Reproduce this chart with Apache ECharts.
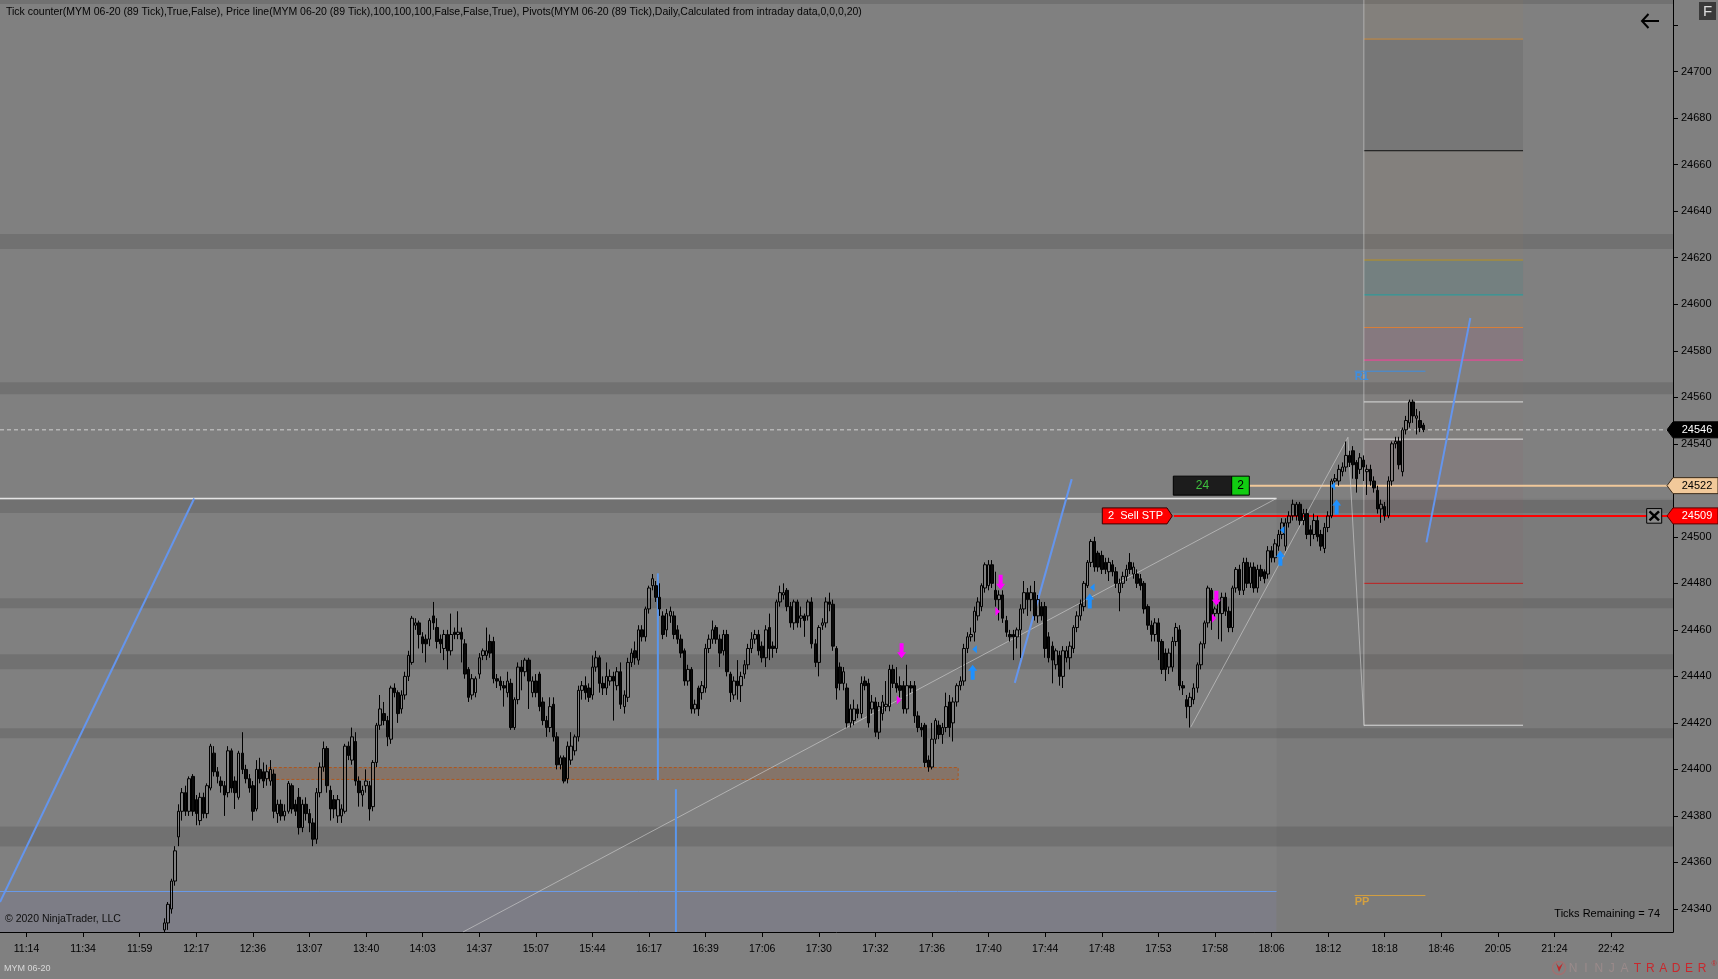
<!DOCTYPE html>
<html>
<head>
<meta charset="utf-8">
<title>MYM 06-20 (89 Tick)</title>
<script src="https://cdn.jsdelivr.net/npm/echarts@6.0.0/dist/echarts.min.js"></script>
<style>
html,body{margin:0;padding:0;background:#808080;overflow:hidden;}
#chart{width:1718px;height:979px;}
</style>
</head>
<body>
<div id="chart"></div>
<script>
// ---------------- DATA ----------------
const SLOT_COUNT = 473;               // bar slots across the plot (incl. future space)
const SLOT_MIN = -0.5, SLOT_MAX = SLOT_COUNT - 0.5;
const PRICE_MIN = 24330.1, PRICE_MAX = 24730.8;
const FIRST_BAR_SLOT = 46;

// [open, close, low, high]
const bars = [
// 46
[24331,24334,24330,24336],[24334,24342,24331,24343],[24340,24352,24338,24353],[24352,24365,24350,24367],
[24371,24382,24367,24385],[24382,24390,24378,24392],[24390,24382,24380,24393],[24382,24396,24380,24397],
[24397,24382,24380,24398],
// 55
[24387,24381,24376,24389],[24378,24388,24376,24390],[24388,24381,24379,24390],[24381,24393,24379,24394],
[24392,24410,24391,24411],[24407,24399,24397,24410],[24399,24397,24394,24401],[24395,24393,24390,24397],
[24393,24389,24380,24395],[24390,24408,24388,24410],
// 65
[24408,24392,24390,24409],[24395,24390,24383,24397],[24388,24407,24387,24408],[24407,24400,24398,24416],
[24400,24396,24394,24402],[24396,24392,24390,24398],[24393,24382,24378,24395],[24383,24400,24382,24404],
[24400,24396,24394,24405],[24399,24395,24392,24403],
// 75
[24396,24399,24393,24402],[24395,24400,24393,24404],[24398,24382,24379,24400],[24381,24385,24377,24387],
[24385,24380,24378,24387],[24380,24382,24378,24385],[24382,24394,24381,24395],[24393,24383,24381,24394],
[24385,24382,24380,24387],[24388,24375,24372,24392],
// 85
[24375,24385,24373,24387],[24385,24381,24378,24388],[24381,24377,24373,24383],[24377,24370,24367,24379],
[24370,24390,24368,24392],[24390,24401,24388,24403],[24401,24409,24399,24412],[24409,24393,24390,24410],
[24391,24383,24378,24393],[24387,24383,24379,24389],
// 95
[24380,24387,24377,24389],[24380,24383,24377,24385],[24382,24410,24381,24411],[24410,24406,24404,24412],
[24404,24414,24402,24418],[24412,24395,24393,24416],[24395,24390,24384,24397],[24389,24391,24384,24393],
[24393,24395,24390,24400],[24393,24383,24378,24395],
// 105
[24384,24403,24382,24404],[24403,24419,24401,24420],[24419,24426,24417,24432],[24424,24421,24419,24429],
[24421,24414,24410,24423],[24413,24435,24411,24436],[24435,24433,24431,24437],[24433,24424,24420,24434],
[24426,24432,24424,24434],[24432,24440,24430,24442],
// 115
[24440,24449,24438,24451],[24446,24465,24445,24466],[24462,24463,24460,24465],[24463,24458,24452,24464],
[24457,24454,24450,24459],[24456,24454,24446,24458],[24456,24464,24453,24465],[24466,24463,24460,24472],
[24461,24455,24452,24465],[24456,24454,24450,24458],
// 125
[24452,24458,24447,24460],[24458,24451,24443,24460],[24451,24458,24449,24467],[24459,24458,24456,24461],
[24458,24459,24456,24468],[24459,24456,24446,24461],[24454,24441,24439,24456],[24443,24431,24429,24444],
[24432,24439,24430,24441],[24433,24439,24431,24440],
// 135
[24441,24448,24439,24450],[24449,24451,24447,24452],[24449,24451,24447,24461],[24455,24450,24448,24458],
[24455,24439,24437,24457],[24439,24438,24435,24441],[24438,24436,24434,24440],[24436,24435,24427,24438],
[24433,24438,24431,24442],[24437,24418,24417,24439],
// 145
[24418,24430,24417,24431],[24430,24444,24428,24446],[24444,24442,24434,24447],[24442,24447,24440,24448],
[24447,24438,24426,24448],[24433,24438,24431,24440],[24438,24433,24431,24441],[24441,24427,24425,24442],
[24429,24421,24419,24431],[24421,24418,24414,24423],
// 155
[24418,24427,24416,24431],[24428,24414,24412,24431],[24414,24402,24400,24416],[24402,24405,24400,24406],
[24405,24395,24394,24406],
// 160
[24396,24410,24394,24412],[24404,24410,24402,24416],[24408,24414,24406,24415],[24414,24434,24412,24436],
[24434,24436,24430,24438],[24436,24433,24430,24440],[24435,24431,24429,24437],[24432,24444,24430,24449],
[24444,24448,24442,24451],[24448,24437,24433,24449],
// 170
[24437,24435,24432,24440],[24435,24440,24432,24446],[24438,24440,24436,24443],[24440,24438,24421,24442],
[24436,24442,24434,24444],[24442,24428,24426,24446],[24427,24432,24424,24434],[24431,24446,24429,24448],
[24446,24450,24444,24452],[24451,24448,24445,24455],
// 180
[24447,24460,24445,24462],[24460,24457,24455,24462],[24457,24469,24455,24470],[24469,24478,24467,24479],
[24479,24482,24477,24484],[24479,24474,24472,24481],[24474,24469,24466,24480],[24466,24458,24456,24468],
[24460,24467,24457,24469],[24466,24468,24463,24470],
// 190
[24466,24458,24456,24468],[24460,24456,24454,24462],[24456,24450,24448,24458],[24451,24438,24436,24452],
[24438,24443,24436,24445],[24443,24426,24424,24444],[24426,24428,24424,24430],[24435,24426,24423,24436],
[24433,24436,24430,24438],[24435,24452,24433,24454],
// 200
[24452,24456,24450,24458],[24456,24460,24454,24464],[24461,24456,24454,24462],[24456,24450,24444,24458],
[24451,24458,24449,24460],[24458,24442,24440,24460],[24441,24433,24429,24442],[24432,24438,24430,24440],
[24438,24436,24430,24447],[24436,24440,24429,24442],
// 210
[24441,24445,24439,24447],[24445,24452,24443,24454],[24452,24456,24450,24459],[24456,24458,24454,24460],
[24458,24451,24449,24460],[24453,24448,24446,24455],[24448,24460,24444,24462],[24461,24452,24447,24467],
[24453,24452,24448,24455],[24452,24472,24450,24473],
// 220
[24472,24476,24470,24479],[24475,24476,24473,24480],[24477,24470,24468,24478],[24470,24463,24461,24472],
[24463,24472,24460,24473],[24472,24463,24461,24473],[24465,24466,24461,24470],[24466,24464,24457,24467],
[24466,24472,24464,24473],[24472,24454,24452,24474],
// 230
[24454,24446,24444,24456],[24446,24461,24440,24462],[24462,24463,24460,24465],[24463,24472,24461,24474],
[24472,24471,24468,24476],[24471,24453,24451,24473],[24452,24435,24430,24453],[24444,24437,24434,24446],
[24437,24442,24434,24444],[24435,24420,24418,24437],
// 240
[24420,24426,24418,24428],[24421,24426,24419,24430],[24426,24424,24422,24428],[24424,24437,24422,24440],
[24438,24436,24434,24440],[24437,24420,24418,24439],[24426,24429,24424,24432],[24429,24416,24414,24431],
[24416,24427,24413,24429],[24424,24429,24421,24432],
// 250
[24427,24428,24425,24438],[24427,24443,24425,24445],[24443,24437,24435,24445],[24437,24435,24433,24444],
[24436,24434,24431,24440],[24436,24426,24424,24438],[24426,24436,24424,24445],[24436,24435,24433,24438],
[24436,24423,24420,24438],[24423,24418,24416,24425],
// 260
[24418,24417,24414,24420],[24419,24403,24401,24420],[24404,24401,24399,24406],[24401,24413,24400,24420],
[24413,24421,24411,24422],[24419,24415,24413,24421],[24415,24418,24411,24420],[24418,24427,24416,24433],
[24429,24418,24414,24432],[24420,24429,24412,24431],
// 270
[24429,24436,24427,24437],[24436,24438,24434,24440],[24438,24452,24436,24454],[24452,24457,24450,24459],
[24457,24458,24455,24461],[24459,24468,24455,24470],[24466,24472,24464,24474],[24470,24479,24468,24480],
[24478,24488,24476,24489],[24479,24488,24477,24490],
// 280
[24488,24480,24478,24490],[24477,24473,24470,24485],[24473,24475,24464,24477],[24475,24465,24463,24477],
[24464,24459,24457,24466],[24458,24457,24455,24460],[24458,24457,24447,24460],[24457,24460,24452,24461],
[24460,24469,24448,24471],[24469,24476,24467,24481],
// 290
[24476,24473,24466,24478],[24473,24476,24468,24479],[24476,24466,24464,24481],[24466,24473,24463,24475],
[24470,24466,24464,24472],[24470,24452,24448,24472],[24457,24448,24446,24459],[24453,24447,24437,24455],
[24445,24451,24443,24452],[24449,24440,24436,24451],
// 300
[24440,24451,24435,24453],[24448,24451,24446,24453],[24448,24453,24443,24455],[24452,24461,24450,24462],
[24461,24466,24459,24468],[24466,24471,24464,24473],[24470,24480,24468,24481],[24479,24489,24478,24490],
[24489,24498,24487,24499],[24498,24487,24485,24500],
// 310
[24493,24487,24485,24494],[24492,24486,24484,24494],[24489,24486,24484,24491],[24485,24489,24481,24491],
[24488,24485,24483,24490],[24485,24480,24478,24487],[24476,24480,24468,24482],[24480,24483,24478,24485],
[24483,24486,24481,24488],[24489,24486,24484,24493],
// 320
[24484,24487,24482,24489],[24484,24480,24478,24486],[24482,24479,24477,24484],[24480,24469,24467,24481],
[24470,24462,24460,24471],[24462,24458,24455,24464],[24458,24463,24455,24465],[24463,24455,24447,24465],
[24455,24443,24441,24456],[24450,24443,24438,24452],
// 330
[24444,24450,24441,24452],[24444,24455,24442,24457],[24455,24461,24453,24463],[24460,24436,24434,24462],
[24436,24435,24432,24438],[24430,24427,24422,24432],[24427,24431,24418,24433],[24430,24435,24428,24437],
[24435,24445,24433,24446],[24445,24454,24443,24455],
// 340
[24454,24463,24452,24464],[24463,24478,24461,24479],[24477,24464,24460,24478],[24467,24469,24465,24470],
[24467,24472,24456,24473],[24467,24474,24455,24476],[24474,24468,24466,24476],[24468,24461,24459,24470],
[24461,24478,24459,24479],[24478,24486,24476,24487],
// 350
[24486,24477,24475,24488],[24477,24489,24475,24491],[24489,24480,24478,24491],[24480,24487,24478,24489],
[24487,24478,24476,24489],[24478,24486,24476,24488],[24486,24483,24481,24488],[24485,24482,24480,24486],
[24484,24494,24482,24496],[24494,24491,24489,24496],
// 360
[24491,24497,24489,24499],[24496,24501,24494,24503],[24501,24506,24499,24508],[24496,24506,24494,24508],
[24506,24509,24504,24511],[24509,24514,24507,24516],[24509,24514,24507,24515],[24514,24507,24505,24515],
[24507,24510,24505,24512],[24510,24501,24499,24512],
// 370
[24503,24501,24496,24505],[24501,24507,24499,24510],[24507,24500,24498,24509],[24501,24496,24494,24503],
[24495,24504,24493,24506],[24504,24509,24502,24511],[24509,24524,24508,24525],[24524,24525,24522,24527],
[24524,24529,24522,24531],[24528,24530,24526,24532],
// 380
[24530,24535,24528,24541],[24535,24532,24530,24537],[24537,24531,24525,24539],[24532,24525,24519,24533],
[24529,24534,24527,24536],[24533,24530,24524,24535],[24528,24529,24518,24531],[24529,24524,24522,24531],
[24524,24521,24519,24526],[24520,24512,24510,24522],
// 390
[24512,24514,24506,24516],[24513,24509,24507,24515],[24509,24524,24508,24526],[24524,24540,24522,24541],
[24540,24541,24538,24543],[24541,24531,24529,24543],[24528,24546,24526,24547],[24546,24550,24544,24552],
[24549,24558,24547,24559],[24558,24552,24549,24559],
// 400
[24551,24552,24544,24555],[24550,24547,24545,24554],[24548,24546,24545,24549]
];

const timeLabels = ['11:14','11:34','11:59','12:17','12:36','13:07','13:40','14:03','14:37','15:07',
  '15:44','16:17','16:39','17:06','17:30','17:32','17:36','17:40','17:44','17:48','17:53','17:58',
  '18:06','18:12','18:18','18:46','20:05','21:24','22:42'];
const FIRST_LABEL_SLOT = 7, LABEL_EVERY = 16;

const yTickValues = [24340,24360,24380,24400,24420,24440,24460,24480,24500,24520,24540,24560,
  24580,24600,24620,24640,24660,24680,24700,24720];
const yLabelValues = [24340,24360,24380,24400,24420,24440,24460,24480,24500,24540,24560,
  24580,24600,24620,24640,24660,24680,24700];

// darker horizontal zones [low, high]
const bands = [[24729.1,24731],[24623.7,24630.2],[24561.3,24566.5],[24510.2,24515.8],
  [24469.3,24473.6],[24443.1,24449.5],[24413.4,24417.7],[24366.9,24375.5]];
// [slotFrom, slotTo, priceLow, priceHigh]
const blueTintZone = [[SLOT_MIN, 360.4, PRICE_MIN, 24347.5]];
const darkTintZone = [[360.4, SLOT_MAX, PRICE_MIN, 24516.5]];
const supplyZone = [[75.5, 270.4, 24395.7, 24400.8]];

// pivots
const pivotFrom = 385.1, pivotTo = 430.1;
const pivotLevels = [24714, 24666, 24619, 24604, 24590, 24576, 24558, 24542, 24480, 24419];
const r1Level = {price: 24571.2, from: 382.5, to: 402.5};
const ppLevel = {price: 24345.8, from: 382.5, to: 402.5};

// drawn lines: arrays of [slot, price]
const blueTrendLines = [
  [[-0.5, 24343], [54.4, 24516.5]],
  [[286.4, 24437.2], [302.5, 24524.8]],
  [[402.8, 24497.6], [415.2, 24594.1]]
];
const blueVerticals = [
  [[185.5, 24484.3], [185.5, 24395.4]],
  [[190.6, 24391.5], [190.6, PRICE_MIN]]
];
const grayZigzags = [
  [[130.4, PRICE_MIN], [360.4, 24516.5]],
  [[336.2, 24418.3], [380.6, 24542.8], [385.2, 24418.6]]
];
const whiteLevel = {price: 24516.5, from: SLOT_MIN, to: 360.4};
const blueLevel = {price: 24347.5, from: SLOT_MIN, to: 360.4};
const lastPrice = 24546;
const entryPrice = 24522, entryFrom = 352.6, entryQty = 24, entryPos = 2;
const stopPrice = 24509, stopFrom = 331.4, stopQty = 2;
const ticksRemaining = 74;

// signal markers [slot, price]
const downArrows = [[254.4, 24451.0], [282.4, 24480.5], [343.4, 24473.6]];
const upArrows = [[274.5, 24441.8], [307.6, 24472.4], [361.5, 24490.8], [377.4, 24512.8]];
const rightTriangles = [[253.6, 24429.8], [281.5, 24467.9], [342.7, 24465.0]];
const leftTriangles = [[275.1, 24451.7], [308.4, 24478.2], [362.1, 24502.9], [376.4, 24521.8]];

const titleText = 'Tick counter(MYM 06-20 (89 Tick),True,False), Price line(MYM 06-20 (89 Tick),100,100,100,False,False,True), Pivots(MYM 06-20 (89 Tick),Daily,Calculated from intraday data,0,0,0,20)';

// ---------------- CHART ----------------
const FONT = '"Liberation Sans", Arial, sans-serif';
const chart = echarts.init(document.getElementById('chart'), null, {renderer: 'canvas', width: 1718, height: 979});

const categories = Array.from({length: SLOT_COUNT}, (_, i) => String(i));
const labelBySlot = {};
timeLabels.forEach((t, k) => { labelBySlot[FIRST_LABEL_SLOT + k * LABEL_EVERY] = t; });
const candleData = Array.from({length: SLOT_COUNT}, (_, s) => bars[s - FIRST_BAR_SLOT] || ['-', '-', '-', '-']);

function rectSeries(rows, styleFn, z) {
  return {
    type: 'custom', coordinateSystem: 'cartesian2d', xAxisIndex: 1, yAxisIndex: 0,
    z: z, silent: true, clip: true, data: rows, encode: {x: [0, 1], y: [2, 3]},
    renderItem: function (params, api) {
      const a = api.coord([api.value(0), api.value(2)]);
      const b = api.coord([api.value(1), api.value(3)]);
      return {type: 'rect',
        shape: {x: Math.min(a[0], b[0]), y: Math.min(a[1], b[1]), width: Math.abs(b[0] - a[0]), height: Math.abs(b[1] - a[1])},
        style: styleFn(params.dataIndex)};
    }
  };
}
function lineSeries(pts, color, width, z, type) {
  return {type: 'line', xAxisIndex: 1, yAxisIndex: 0, data: pts, symbol: 'none', silent: true, z: z,
    clip: true, lineStyle: {color: color, width: width, type: type || 'solid'}};
}
// arrow glyphs drawn at the marker's data point
function arrowSeries(pts, dir, color, z) {
  return {
    type: 'custom', coordinateSystem: 'cartesian2d', xAxisIndex: 1, yAxisIndex: 0, z: z, silent: true,
    data: pts, encode: {x: 0, y: 1},
    renderItem: function (params, api) {
      const c = api.coord([api.value(0), api.value(1)]);
      const x = c[0], y = c[1], h = 7.5;
      const pts2 = dir === 'down'
        ? [[x - 2, y - h], [x + 2, y - h], [x + 2, y + 1.5], [x + 4.5, y + 1.5], [x, y + h], [x - 4.5, y + 1.5], [x - 2, y + 1.5]]
        : [[x - 2, y + h], [x + 2, y + h], [x + 2, y - 1.5], [x + 4.5, y - 1.5], [x, y - h], [x - 4.5, y - 1.5], [x - 2, y - 1.5]];
      return {type: 'polygon', shape: {points: pts2}, style: {fill: color}};
    }
  };
}
function triangleSeries(pts, dir, color, z) {
  return {
    type: 'custom', coordinateSystem: 'cartesian2d', xAxisIndex: 1, yAxisIndex: 0, z: z, silent: true,
    data: pts, encode: {x: 0, y: 1},
    renderItem: function (params, api) {
      const c = api.coord([api.value(0), api.value(1)]);
      const x = c[0], y = c[1];
      const pts2 = dir === 'right'
        ? [[x - 2, y - 4.5], [x + 2.5, y], [x - 2, y + 4.5]]
        : [[x + 2, y - 4], [x - 2.5, y], [x + 2, y + 4]];
      return {type: 'polygon', shape: {points: pts2}, style: {fill: color}};
    }
  };
}

const series = [];
series.push(rectSeries(bands.map(b => [SLOT_MIN, SLOT_MAX, b[0], b[1]]), () => ({fill: 'rgba(0,0,0,0.115)'}), 1));
series.push(rectSeries(blueTintZone, () => ({fill: 'rgba(90,90,210,0.07)'}), 1));
series.push(rectSeries(darkTintZone, () => ({fill: 'rgba(0,0,0,0.035)'}), 1));

// pivot fills
const pivotBounds = [PRICE_MAX].concat(pivotLevels);
const pivotFills = ['rgba(160,125,90,0.10)', 'rgba(0,0,0,0.07)', 'rgba(160,125,90,0.08)', 'rgba(40,130,130,0.13)',
  'rgba(160,125,90,0.08)', 'rgba(170,80,120,0.14)', 'rgba(150,110,100,0.05)', 'rgba(150,110,100,0.05)',
  'rgba(150,90,100,0.11)', 'rgba(150,110,100,0.05)'];
const pivotRows = [];
for (let i = 0; i < pivotBounds.length - 1; i++) pivotRows.push([pivotFrom, pivotTo, pivotBounds[i + 1], pivotBounds[i]]);
series.push(rectSeries(pivotRows, i => ({fill: pivotFills[i]}), 1));

series.push(rectSeries(supplyZone, () => ({fill: 'rgba(150,75,25,0.22)', stroke: '#b0561c', lineWidth: 1, lineDash: [3, 2]}), 2));

// pivot lines
const pivotColors = ['#c8883a', '#111111', '#b8901e', '#1fa0a0', '#d8803a', '#ff3c9c', '#dcdcdc', '#dcdcdc', '#c02020', '#dcdcdc'];
pivotLevels.forEach((p, i) => series.push(lineSeries([[pivotFrom, p], [pivotTo, p]], pivotColors[i], 1, 3)));
series.push(lineSeries([[pivotFrom, PRICE_MAX], [pivotFrom, pivotLevels[pivotLevels.length - 1]]], 'rgba(215,215,215,0.55)', 1, 3));
series.push(lineSeries([[r1Level.from, r1Level.price], [r1Level.to, r1Level.price]], '#3d8ee0', 1, 3));
series.push(lineSeries([[ppLevel.from, ppLevel.price], [ppLevel.to, ppLevel.price]], '#d4a040', 1, 3));

// horizontal levels
series.push(lineSeries([[whiteLevel.from, whiteLevel.price], [whiteLevel.to, whiteLevel.price]], '#e4e4e4', 1.5, 3));
series.push(lineSeries([[blueLevel.from, blueLevel.price], [blueLevel.to, blueLevel.price]], '#6a9ae8', 1, 3));
series.push(lineSeries([[SLOT_MIN, lastPrice], [SLOT_MAX, lastPrice]], '#d0d0d0', 1, 3, [4, 3]));
series.push(lineSeries([[entryFrom, entryPrice], [SLOT_MAX, entryPrice]], '#f0c89a', 2, 3));
series.push(lineSeries([[stopFrom, stopPrice], [SLOT_MAX, stopPrice]], '#ff0000', 2, 3));

grayZigzags.forEach(pts => series.push(lineSeries(pts, 'rgba(210,210,210,0.6)', 1, 3)));
blueTrendLines.forEach(pts => series.push(lineSeries(pts, '#6495ed', 2, 4)));
blueVerticals.forEach(pts => series.push(lineSeries(pts, '#5b97ec', 2, 4)));

series.push({
  type: 'candlestick', xAxisIndex: 0, yAxisIndex: 0, data: candleData, z: 5, barWidth: 3, silent: true,
  itemStyle: {color: 'rgba(0,0,0,0)', color0: '#0a0a0a', borderColor: '#000', borderColor0: '#000', borderWidth: 1}
});

series.push(arrowSeries(downArrows, 'down', '#ff00ff', 6));
series.push(arrowSeries(upArrows, 'up', '#1e90ff', 6));
series.push(triangleSeries(rightTriangles, 'right', '#ff00ff', 6));
series.push(triangleSeries(leftTriangles, 'left', '#1e90ff', 6));

chart.setOption({
  animation: false,
  backgroundColor: '#808080',
  grid: {left: 0, top: 0, right: 45, bottom: 47, containLabel: false, outerBoundsMode: 'none', show: false},
  xAxis: [{
    type: 'category', data: categories, boundaryGap: true, position: 'bottom',
    axisLine: {show: true, onZero: false, lineStyle: {color: '#000', width: 1}},
    axisTick: {show: true, alignWithLabel: true, length: 5, lineStyle: {color: '#000'},
      interval: (i) => labelBySlot[i] !== undefined},
    axisLabel: {show: true, interval: (i) => labelBySlot[i] !== undefined,
      formatter: (v) => labelBySlot[+v] || '', color: '#000', fontSize: 10.5, fontFamily: FONT, margin: 12},
    splitLine: {show: false}
  }, {
    type: 'value', min: SLOT_MIN, max: SLOT_MAX, show: false, splitLine: {show: false},
    axisLine: {onZero: false}
  }],
  yAxis: [{
    type: 'value', position: 'right', min: PRICE_MIN, max: PRICE_MAX, minInterval: 20, maxInterval: 20,
    axisLine: {show: true, onZero: false, lineStyle: {color: '#000', width: 1}},
    axisTick: {show: true, length: 5, lineStyle: {color: '#000'}, customValues: yTickValues},
    axisLabel: {color: '#000', fontSize: 11, fontFamily: FONT, margin: 8, customValues: yLabelValues,
      formatter: (v) => yLabelValues.indexOf(Math.round(v)) >= 0 && Math.abs(v - Math.round(v)) < 1e-6 ? String(Math.round(v)) : ''},
    splitLine: {show: false}
  }],
  series: series
});

// ---------------- OVERLAYS (positions from the axes) ----------------
const yP = p => chart.convertToPixel({yAxisIndex: 0}, p);
const xP = s => chart.convertToPixel({xAxisIndex: 1}, s);
const axisX = xP(SLOT_MAX);
const W = 1718;
const g = [];
function txt(text, x, y, opts) {
  return {type: 'text', z: 100, silent: true,
    style: Object.assign({text: text, x: x, y: y, fill: '#000', font: '10.5px ' + FONT,
      align: 'left', verticalAlign: 'middle', textAlign: 'left', textVerticalAlign: 'middle'}, opts || {})};
}
function priceTag(price, fill, stroke, textColor) {
  const y = yP(price), tip = axisX - 6;
  g.push({type: 'polygon', z: 100, silent: true,
    shape: {points: [[tip, y], [axisX, y - 8], [W, y - 8], [W, y + 8], [axisX, y + 8]]},
    style: {fill: fill, stroke: stroke, lineWidth: 1}});
  g.push(txt(String(price), 1697, y + 0.5, {fill: textColor, align: 'center', textAlign: 'center', font: '11px ' + FONT}));
}

g.push(txt(titleText, 6, 12, {font: '10.5px ' + FONT, fill: '#050505'}));
g.push(txt('\u00a9 2020 NinjaTrader, LLC', 5, 919, {font: '10.5px ' + FONT, fill: '#101010'}));
g.push(txt('Ticks Remaining = ' + ticksRemaining, 1660, 914, {font: '11px ' + FONT, align: 'right', textAlign: 'right'}));
g.push(txt('MYM 06-20', 4, 969, {font: '9px ' + FONT, fill: '#d8d8d8'}));

// pivot labels
g.push(txt('R1', xP(r1Level.from), yP(r1Level.price) + 6, {font: 'bold 11px ' + FONT, fill: '#3d8ee0'}));
g.push(txt('PP', xP(ppLevel.from), yP(ppLevel.price) + 6, {font: 'bold 11px ' + FONT, fill: '#d4a040'}));

// order / position tags
(function () {
  const yE = yP(entryPrice);
  g.push({type: 'rect', z: 100, silent: true, shape: {x: 1173.3, y: yE - 9.5, width: 58.4, height: 19},
    style: {fill: '#1c1c1c', stroke: '#000', lineWidth: 1}});
  g.push({type: 'rect', z: 100, silent: true, shape: {x: 1231.7, y: yE - 9.5, width: 17.6, height: 19},
    style: {fill: '#11cc11', stroke: '#000', lineWidth: 1}});
  g.push(txt(String(entryQty), 1202.5, yE + 0.5, {font: '12px ' + FONT, fill: '#3ec03e', align: 'center', textAlign: 'center'}));
  g.push(txt(String(entryPos), 1240.5, yE + 0.5, {font: '12px ' + FONT, fill: '#000', align: 'center', textAlign: 'center'}));

  const yS = yP(stopPrice);
  g.push({type: 'polygon', z: 100, silent: true,
    shape: {points: [[1102.3, yS - 8], [1167, yS - 8], [1172.3, yS], [1167, yS + 8], [1102.3, yS + 8]]},
    style: {fill: '#ff0000', stroke: '#3a0000', lineWidth: 1}});
  g.push(txt(stopQty + '  Sell STP', 1108, yS + 0.5, {font: '11px ' + FONT, fill: '#fff'}));

  // close (X) button
  g.push({type: 'rect', z: 100, silent: true, shape: {x: 1646.7, y: yS - 7.3, width: 15, height: 14.6},
    style: {fill: '#8c8c8c', stroke: '#000', lineWidth: 1}});
  g.push({type: 'line', z: 101, silent: true, shape: {x1: 1649.5, y1: yS - 4.5, x2: 1659, y2: yS + 4.5}, style: {stroke: '#000', lineWidth: 2.5}});
  g.push({type: 'line', z: 101, silent: true, shape: {x1: 1659, y1: yS - 4.5, x2: 1649.5, y2: yS + 4.5}, style: {stroke: '#000', lineWidth: 2.5}});
})();

priceTag(lastPrice, '#000', '#000', '#fff');
priceTag(entryPrice, '#f2c99a', '#3a2a1a', '#000');
priceTag(stopPrice, '#ff0000', '#5a0000', '#fff');

// F button and back arrow
g.push({type: 'rect', z: 100, silent: true, shape: {x: 1699, y: 2, width: 17, height: 18}, style: {fill: '#3a3a3a'}});
g.push(txt('F', 1707.5, 11.5, {font: '15px ' + FONT, fill: '#dcdcdc', align: 'center', textAlign: 'center'}));
g.push({type: 'polyline', z: 100, silent: true, shape: {points: [[1648.5, 14], [1642, 21], [1648.5, 28]]}, style: {stroke: '#000', lineWidth: 2, fill: null}});
g.push({type: 'line', z: 100, silent: true, shape: {x1: 1642, y1: 21, x2: 1659, y2: 21}, style: {stroke: '#000', lineWidth: 2}});

// NinjaTrader logo
g.push({type: 'circle', z: 100, silent: true, shape: {cx: 1559, cy: 968, r: 6.5}, style: {fill: 'rgba(0,0,0,0)', stroke: '#a07070', lineWidth: 1.5}});
g.push({type: 'polygon', z: 101, silent: true, shape: {points: [[1556, 963], [1559, 972], [1563, 963], [1559, 967]]}, style: {fill: '#c02828'}});
const logo = 'NINJATRADER';
for (let i = 0; i < logo.length; i++) {
  g.push(txt(logo[i], 1573 + i * 12.9, 969, {font: '12px ' + FONT, fill: i < 5 ? '#9a8a8a' : '#c8282d', align: 'center', textAlign: 'center'}));
}
g.push(txt('\u00ae', 1714, 964, {font: '7px ' + FONT, fill: '#c8282d', align: 'center', textAlign: 'center'}));

chart.setOption({graphic: {elements: g}});
</script>
</body>
</html>
